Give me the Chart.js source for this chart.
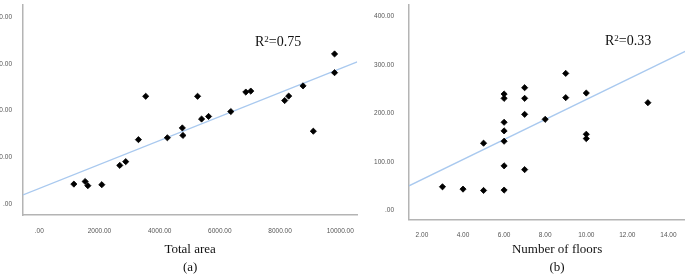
<!DOCTYPE html>
<html><head><meta charset="utf-8">
<script src="https://cdn.jsdelivr.net/npm/chart.js@4"></script>
<style>
html,body{margin:0;padding:0;background:#fff;overflow:hidden;width:685px;height:277px;position:relative}
.w{position:absolute;top:0}
#w1{left:0;width:362px;height:277px}
#w2{left:362px;width:348px;height:277px}
.r2{position:absolute;font-family:"Liberation Serif","Times New Roman",serif;font-size:14px;color:#111;white-space:nowrap;line-height:16px}
.r2 sup{font-size:9px;vertical-align:top;position:relative;top:-3px}
</style></head>
<body>
<div class="w" id="w1"><canvas id="c1" width="362" height="277"></canvas></div>
<div class="w" id="w2"><canvas id="c2" width="348" height="277"></canvas></div>
<div class="r2" style="left:255px;top:34px">R<sup>2</sup>=0.75</div>
<div class="r2" style="left:605px;top:33px">R<sup>2</sup>=0.33</div>
<script>
// Panel (a): total area vs value
const areaX = [1150,1525,1614,2078,2675,2873,3295,3537,4256,4753,4773,5260,5393,5625,6364,6862,7027,8154,8287,8764,9105,9811,9811];
const areaY = [43,48.6,39.6,41.7,83,91,138,230.6,142,163,147,230.6,182,187.5,198,239.6,241.7,221.5,231,252.8,156,321,281];
const fitAX = [-540,10563];
const fitAY = [20,304];
const areaTicksX = [0,2000,4000,6000,8000,10000];
// Panel (b): number of floors vs value
const floorsX = [3,4,5,5,6,6,6,6,6,6,6,7,7,7,7,8,9,9,10,10,10,13];
const floorsY = [48.6,43.8,41,138.5,41.8,91.8,142.6,163.9,181.7,231,240,84,198,231,253,187.8,232.5,282.5,242,157,148,222];
const fitBX = [1.37,15.79];
const fitBY = [50.6,348];
const floorTicksX = [2,4,6,8,10,12,14];
const valueTicksY = [0,100,200,300,400];
const titleA = ['Total area','(a)'];
const titleB = ['Number of floors','(b)'];

const fmt = v => v === 0 ? '.00' : Number(v).toFixed(2);
const pts = (xs, ys) => xs.map((x,i)=>({x, y: ys[i]}));
const axisColor = '#b4b4b4';
const tickFont = {family:'"Liberation Sans", Arial, sans-serif', size:6.5};
const titleFont = {family:'"Liberation Serif", "Times New Roman", serif', size:13, lineHeight:'18px'};

function makeChart(id, cfg) {
  return new Chart(document.getElementById(id), {
    type: 'scatter',
    data: {datasets: [
      {type:'line', data: pts(cfg.fx, cfg.fy), borderColor:'#a9c9ef', borderWidth:1.3, pointRadius:0, fill:false, order:2},
      {data: pts(cfg.x, cfg.y), pointStyle:'rectRot', pointRadius:3.1, backgroundColor:'#000', borderColor:'#000', borderWidth:0.8, order:1}
    ]},
    options: {
      responsive:false, animation:false,
      layout:{padding:cfg.pad},
      plugins:{legend:{display:false}, tooltip:{enabled:false}},
      scales:{
        x:{type:'linear', min:cfg.xmin, max:cfg.xmax,
          grid:{display:false}, border:{display:true, color:axisColor, width:1.5},
          ticks:{font:tickFont, color:'#555', padding:4, maxRotation:0, callback:fmt},
          afterBuildTicks: s => { s.ticks = cfg.xt.map(v=>({value:v})); },
          afterFit: s => { s.height = cfg.xh; s.paddingLeft = 0; s.paddingRight = 0; },
          title:{display:true, text:cfg.title, font:titleFont, color:'#111', padding:{top:0,bottom:0}}
        },
        y:{type:'linear', min:cfg.ymin, max:cfg.ymax,
          grid:{display:false}, border:{display:true, color:axisColor, width:1.5},
          ticks:{font:tickFont, color:'#555', padding:cfg.yp, callback:fmt},
          afterBuildTicks: s => { s.ticks = valueTicksY.map(v=>({value:v})); },
          afterFit: s => { s.width = cfg.yw; s.paddingTop = 0; s.paddingBottom = 0; }
        }
      }
    }
  });
}

makeChart('c1', {x:areaX, y:areaY, fx:fitAX, fy:fitAY, xt:areaTicksX, title:titleA,
  xmin:-540, xmax:10563, ymin:-23, ymax:426, pad:{left:0,top:0,right:4,bottom:0}, xh:62, yw:23, yp:3});
makeChart('c2', {x:floorsX, y:floorsY, fx:fitBX, fy:fitBY, xt:floorTicksX, title:titleB,
  xmin:1.37, xmax:15.79, ymin:-19.3, ymax:424, pad:{left:0,top:4,right:3,bottom:0}, xh:57.3, yw:47, yp:7});
</script>
</body></html>
